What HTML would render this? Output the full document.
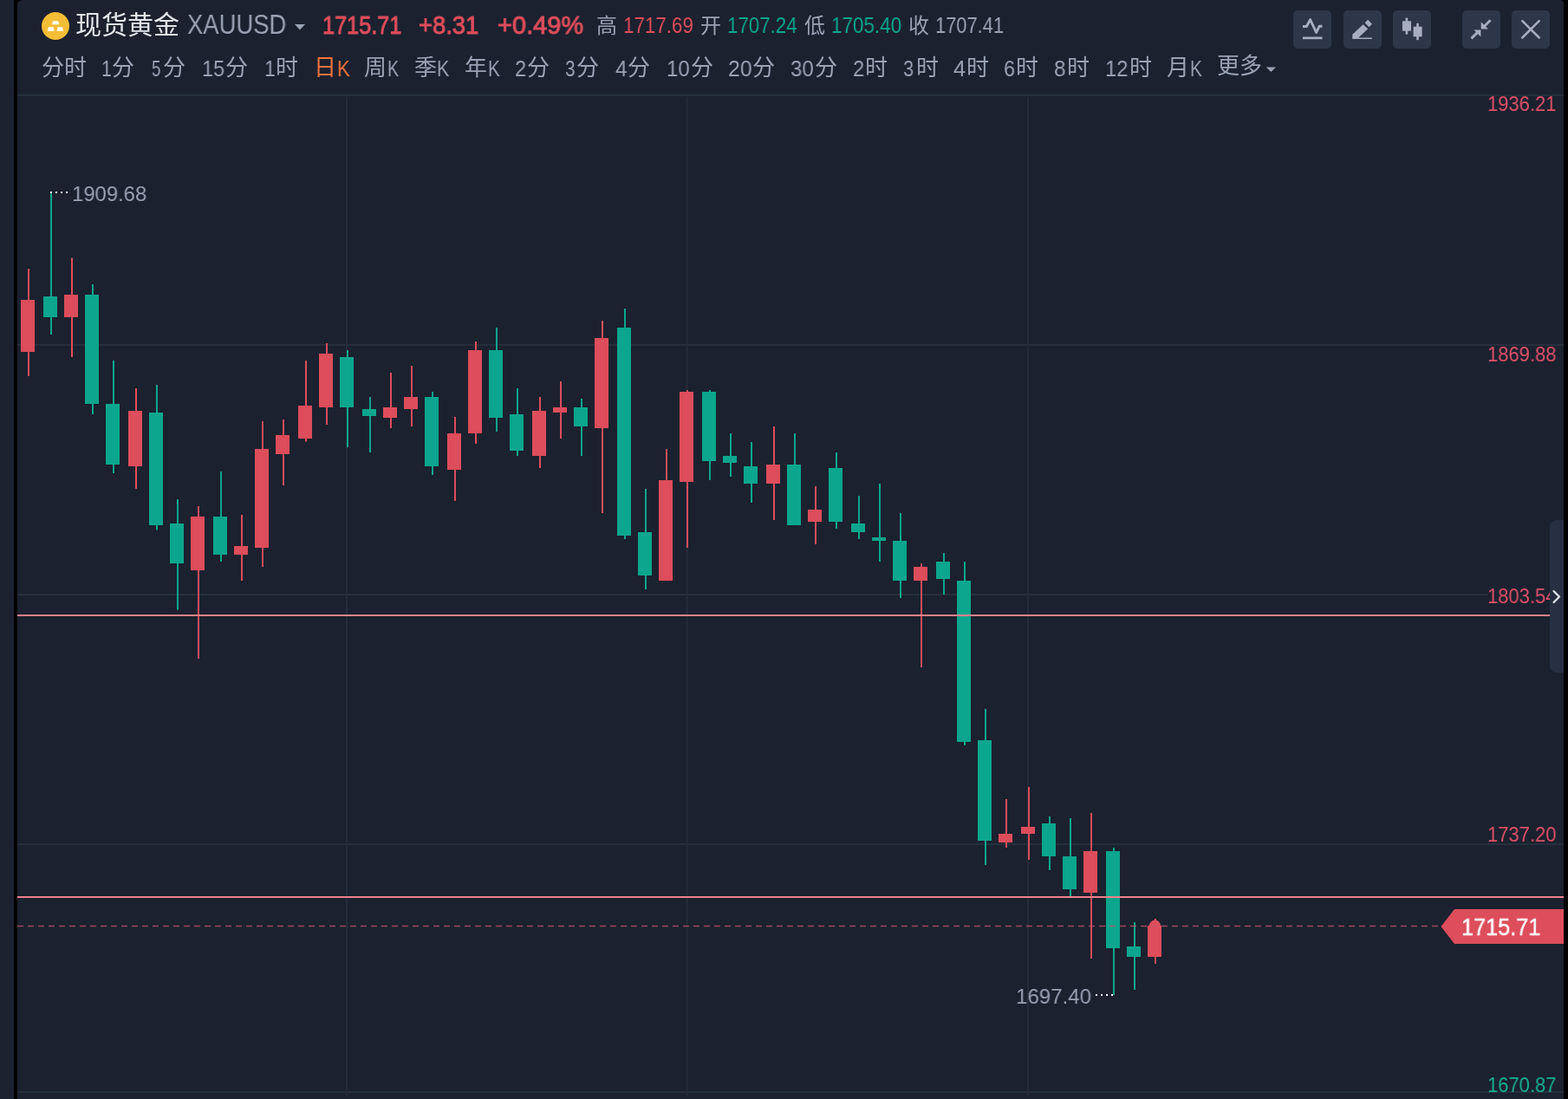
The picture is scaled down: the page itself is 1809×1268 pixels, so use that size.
<!DOCTYPE html>
<html lang="zh"><head><meta charset="utf-8"><title>现货黄金 XAUUSD</title>
<style>
html,body{margin:0;padding:0;background:#1b212f}
body{width:1809px;height:1268px;position:relative;overflow:hidden;font-family:"Liberation Sans",sans-serif}
.t{position:absolute;white-space:nowrap;line-height:1;transform-origin:0 0;will-change:transform}
.h{position:absolute;white-space:nowrap;line-height:1;color:transparent;font-size:12px}
.btn{position:absolute;top:12px;width:44px;height:44px;border-radius:5px;background:#2d3749}
svg{position:absolute;left:0;top:0}
svg text{font-family:"Liberation Sans","Noto Sans CJK SC",sans-serif}
</style></head><body>
<div style="position:absolute;left:16px;top:0;width:1793px;height:1268px;background:#000"></div>
<div id="panel" style="position:absolute;left:20px;top:0;width:1784px;height:1268px;background:#1b212f;border-radius:6px 4px 0 0"></div>
<svg width="1809" height="1268" viewBox="0 0 1809 1268">
<rect x="20" y="109" width="1784" height="2" fill="#262f3c"/>
<rect x="20" y="397" width="1784" height="2" fill="#262f3c"/>
<rect x="20" y="685" width="1784" height="2" fill="#262f3c"/>
<rect x="20" y="973" width="1784" height="2" fill="#262f3c"/>
<rect x="20" y="1259" width="1784" height="2" fill="#262f3c"/>
<rect x="399" y="112" width="2" height="1152" fill="#242c3a"/>
<rect x="791.5" y="112" width="2" height="1152" fill="#242c3a"/>
<rect x="1185" y="112" width="2" height="1152" fill="#242c3a"/>
<rect x="32" y="310" width="2" height="124" fill="#dd4d5b"/><rect x="24" y="346" width="16" height="60" fill="#dd4d5b"/>
<rect x="58" y="222" width="2" height="164" fill="#0ba68d"/><rect x="50" y="342" width="16" height="24" fill="#0ba68d"/>
<rect x="82" y="297.5" width="2" height="114.5" fill="#dd4d5b"/><rect x="74" y="340" width="16" height="26" fill="#dd4d5b"/>
<rect x="106" y="328" width="2" height="150" fill="#0ba68d"/><rect x="98" y="340" width="16" height="126" fill="#0ba68d"/>
<rect x="130" y="416" width="2" height="130" fill="#0ba68d"/><rect x="122" y="466" width="16" height="70" fill="#0ba68d"/>
<rect x="156" y="448" width="2" height="116" fill="#dd4d5b"/><rect x="148" y="474" width="16" height="64" fill="#dd4d5b"/>
<rect x="180" y="444" width="2" height="167.5" fill="#0ba68d"/><rect x="172" y="476" width="16" height="130" fill="#0ba68d"/>
<rect x="204" y="576" width="2" height="127.5" fill="#0ba68d"/><rect x="196" y="604" width="16" height="46" fill="#0ba68d"/>
<rect x="228" y="584" width="2" height="176" fill="#dd4d5b"/><rect x="220" y="596" width="16" height="62" fill="#dd4d5b"/>
<rect x="254" y="544" width="2" height="104" fill="#0ba68d"/><rect x="246" y="596" width="16" height="44" fill="#0ba68d"/>
<rect x="278" y="594" width="2" height="76" fill="#dd4d5b"/><rect x="270" y="630" width="16" height="10" fill="#dd4d5b"/>
<rect x="302" y="486" width="2" height="168" fill="#dd4d5b"/><rect x="294" y="518" width="16" height="114" fill="#dd4d5b"/>
<rect x="326" y="484" width="2" height="76" fill="#dd4d5b"/><rect x="318" y="502" width="16" height="22" fill="#dd4d5b"/>
<rect x="352" y="416" width="2" height="93.5" fill="#dd4d5b"/><rect x="344" y="468" width="16" height="38" fill="#dd4d5b"/>
<rect x="376" y="396" width="2" height="94" fill="#dd4d5b"/><rect x="368" y="408" width="16" height="62" fill="#dd4d5b"/>
<rect x="400" y="404" width="2" height="112" fill="#0ba68d"/><rect x="392" y="412" width="16" height="58" fill="#0ba68d"/>
<rect x="426" y="458" width="2" height="64" fill="#0ba68d"/><rect x="418" y="472" width="16" height="8" fill="#0ba68d"/>
<rect x="450" y="430" width="2" height="64" fill="#dd4d5b"/><rect x="442" y="470" width="16" height="12" fill="#dd4d5b"/>
<rect x="474" y="422" width="2" height="70" fill="#dd4d5b"/><rect x="466" y="458" width="16" height="14" fill="#dd4d5b"/>
<rect x="498" y="452" width="2" height="96" fill="#0ba68d"/><rect x="490" y="458" width="16" height="80" fill="#0ba68d"/>
<rect x="524" y="481" width="2" height="97" fill="#dd4d5b"/><rect x="516" y="500" width="16" height="42" fill="#dd4d5b"/>
<rect x="548" y="394" width="2" height="118" fill="#dd4d5b"/><rect x="540" y="404" width="16" height="96" fill="#dd4d5b"/>
<rect x="572" y="378" width="2" height="120" fill="#0ba68d"/><rect x="564" y="404" width="16" height="78" fill="#0ba68d"/>
<rect x="596" y="448" width="2" height="78" fill="#0ba68d"/><rect x="588" y="478" width="16" height="42" fill="#0ba68d"/>
<rect x="622" y="458" width="2" height="82" fill="#dd4d5b"/><rect x="614" y="474" width="16" height="52" fill="#dd4d5b"/>
<rect x="646" y="440" width="2" height="66" fill="#dd4d5b"/><rect x="638" y="470" width="16" height="6" fill="#dd4d5b"/>
<rect x="670" y="460" width="2" height="66" fill="#0ba68d"/><rect x="662" y="470" width="16" height="22" fill="#0ba68d"/>
<rect x="694" y="370" width="2" height="222" fill="#dd4d5b"/><rect x="686" y="390" width="16" height="104" fill="#dd4d5b"/>
<rect x="720" y="356" width="2" height="266" fill="#0ba68d"/><rect x="712" y="378" width="16" height="240" fill="#0ba68d"/>
<rect x="744" y="564" width="2" height="116" fill="#0ba68d"/><rect x="736" y="614" width="16" height="50" fill="#0ba68d"/>
<rect x="768" y="518" width="2" height="152" fill="#dd4d5b"/><rect x="760" y="554" width="16" height="116" fill="#dd4d5b"/>
<rect x="792" y="450" width="2" height="182" fill="#dd4d5b"/><rect x="784" y="452" width="16" height="104" fill="#dd4d5b"/>
<rect x="818" y="450" width="2" height="104" fill="#0ba68d"/><rect x="810" y="452" width="16" height="80" fill="#0ba68d"/>
<rect x="842" y="500" width="2" height="50" fill="#0ba68d"/><rect x="834" y="526" width="16" height="8" fill="#0ba68d"/>
<rect x="866" y="510" width="2" height="70" fill="#0ba68d"/><rect x="858" y="538" width="16" height="20" fill="#0ba68d"/>
<rect x="892" y="492" width="2" height="108" fill="#dd4d5b"/><rect x="884" y="536" width="16" height="22" fill="#dd4d5b"/>
<rect x="916" y="500" width="2" height="106" fill="#0ba68d"/><rect x="908" y="536" width="16" height="70" fill="#0ba68d"/>
<rect x="940" y="561" width="2" height="67" fill="#dd4d5b"/><rect x="932" y="588" width="16" height="14" fill="#dd4d5b"/>
<rect x="964" y="522" width="2" height="88" fill="#0ba68d"/><rect x="956" y="540" width="16" height="62" fill="#0ba68d"/>
<rect x="990" y="572" width="2" height="50" fill="#0ba68d"/><rect x="982" y="604" width="16" height="10" fill="#0ba68d"/>
<rect x="1014" y="558" width="2" height="90" fill="#0ba68d"/><rect x="1006" y="620" width="16" height="4" fill="#0ba68d"/>
<rect x="1038" y="592" width="2" height="98" fill="#0ba68d"/><rect x="1030" y="624" width="16" height="46" fill="#0ba68d"/>
<rect x="1062" y="650" width="2" height="120" fill="#dd4d5b"/><rect x="1054" y="654" width="16" height="16" fill="#dd4d5b"/>
<rect x="1088" y="638" width="2" height="48" fill="#0ba68d"/><rect x="1080" y="648" width="16" height="20" fill="#0ba68d"/>
<rect x="1112" y="648" width="2" height="212" fill="#0ba68d"/><rect x="1104" y="670" width="16" height="186" fill="#0ba68d"/>
<rect x="1136" y="818" width="2" height="180" fill="#0ba68d"/><rect x="1128" y="854" width="16" height="116" fill="#0ba68d"/>
<rect x="1160" y="922" width="2" height="56" fill="#dd4d5b"/><rect x="1152" y="962" width="16" height="10" fill="#dd4d5b"/>
<rect x="1186" y="908" width="2" height="84" fill="#dd4d5b"/><rect x="1178" y="954" width="16" height="8" fill="#dd4d5b"/>
<rect x="1210" y="942" width="2" height="62" fill="#0ba68d"/><rect x="1202" y="950" width="16" height="38" fill="#0ba68d"/>
<rect x="1234" y="944" width="2" height="90" fill="#0ba68d"/><rect x="1226" y="988" width="16" height="38" fill="#0ba68d"/>
<rect x="1258" y="938" width="2" height="168" fill="#dd4d5b"/><rect x="1250" y="982" width="16" height="48" fill="#dd4d5b"/>
<rect x="1284" y="978" width="2" height="170" fill="#0ba68d"/><rect x="1276" y="982" width="16" height="112" fill="#0ba68d"/>
<rect x="1308" y="1064" width="2" height="78" fill="#0ba68d"/><rect x="1300" y="1092" width="16" height="12" fill="#0ba68d"/>
<rect x="1332" y="1060" width="2" height="52" fill="#dd4d5b"/><rect x="1324" y="1068" width="16" height="36" fill="#dd4d5b"/>
<circle cx="1332.5" cy="1068" r="6.5" fill="#dd4d5b"/>
<rect x="20" y="709" width="1784" height="2" fill="#ee828a" />
<rect x="20" y="1034" width="1784" height="2" fill="#ee828a" />
<line x1="20" y1="1068.5" x2="1662" y2="1068.5" stroke="#c4566b" stroke-width="1.3" stroke-dasharray="7 5" opacity="0.75"/>
<path d="M1662.5 1069L1678 1049H1804V1089H1678Z" fill="#dd4d5b"/>
<rect x="58" y="221" width="2" height="2" fill="#fff"/>
<rect x="64" y="221" width="2" height="2" fill="#fff"/>
<rect x="70" y="221" width="2" height="2" fill="#fff"/>
<rect x="76" y="221" width="2" height="2" fill="#fff"/>
<rect x="1264" y="1147" width="2" height="2" fill="#fff"/>
<rect x="1270" y="1147" width="2" height="2" fill="#fff"/>
<rect x="1276" y="1147" width="2" height="2" fill="#fff"/>
<rect x="1282" y="1147" width="2" height="2" fill="#fff"/>
<path d="M1804 600H1796a8 8 0 0 0 -8 8V768a8 8 0 0 0 8 8H1804Z" fill="#263042"/>
<path d="M1792.5 682L1799 688.5L1792.5 695" fill="none" stroke="#e4e8ef" stroke-width="2.2" stroke-linecap="round" stroke-linejoin="round"/>
</svg>
<div class="t" style="left:1716.48px;top:109.00px;font-size:23px;color:#df5169;transform:scaleX(0.9565)">1936.21</div>
<div class="t" style="left:1716.48px;top:398.00px;font-size:23px;color:#df5169;transform:scaleX(0.9565)">1869.88</div>
<div style="position:absolute;left:1716px;top:678px;width:72px;height:22px;background:#1b212f"></div>
<div style="position:absolute;left:1700px;top:670px;width:88px;height:40px;overflow:hidden">
<div class="t" style="left:16.48px;top:7.00px;font-size:23px;color:#df5169;transform:scaleX(0.9565)">1803.54</div></div>
<div class="t" style="left:1716.48px;top:952.00px;font-size:23px;color:#df5169;transform:scaleX(0.9565)">1737.20</div>
<div class="t" style="left:1716.48px;top:1241.00px;font-size:23px;color:#17b092;transform:scaleX(0.9565)">1670.87</div>
<div class="t " style="left:82.98px;top:212.00px;font-size:24.5px;color:#9aa2b4;transform:scaleX(0.9728)">1909.68</div>
<div class="t " style="left:1172.27px;top:1138.00px;font-size:24.5px;color:#9aa2b4;transform:scaleX(0.9821)">1697.40</div>
<div class="t " style="left:1686.46px;top:1057.00px;font-size:27px;color:#fff;-webkit-text-stroke:0.4px #fff;transform:scaleX(0.9363)">1715.71</div>
<svg width="1809" height="110" viewBox="0 0 1809 110">
<circle cx="64" cy="30" r="16" fill="#f3bd35"/>
<path d="M61.3 24.6h5.7l1.1 3.4h-7.9z M55.9 31.5h5.6l0.8 4h-7.2z M66.6 31.5h5.3l0.8 4h-6.9z" fill="#fff" stroke="#fff" stroke-width="0.5" stroke-linejoin="round"/>
<text x="87" y="39" font-size="30" fill="#e3e6eb">现货黄金</text>
<path d="M340 28h12l-6 6.5z" fill="#9aa2b4"/>
<text x="688" y="38" font-size="24" fill="#9aa2b4">高</text>
<text x="808" y="38" font-size="24" fill="#9aa2b4">开</text>
<text x="928" y="38" font-size="24" fill="#9aa2b4">低</text>
<text x="1048" y="38" font-size="24" fill="#9aa2b4">收</text>
<text x="48" y="87" font-size="26" fill="#9aa2b4">分时</text>
<text x="129" y="87" font-size="26" fill="#9aa2b4">分</text>
<text x="188" y="87" font-size="26" fill="#9aa2b4">分</text>
<text x="260" y="87" font-size="26" fill="#9aa2b4">分</text>
<text x="318" y="87" font-size="26" fill="#9aa2b4">时</text>
<text x="362" y="87" font-size="26" fill="#f4723b">日</text>
<text x="420" y="87" font-size="26" fill="#9aa2b4">周</text>
<text x="478" y="87" font-size="26" fill="#9aa2b4">季</text>
<text x="536" y="87" font-size="26" fill="#9aa2b4">年</text>
<text x="608" y="87" font-size="26" fill="#9aa2b4">分</text>
<text x="665" y="87" font-size="26" fill="#9aa2b4">分</text>
<text x="724" y="87" font-size="26" fill="#9aa2b4">分</text>
<text x="797" y="87" font-size="26" fill="#9aa2b4">分</text>
<text x="868" y="87" font-size="26" fill="#9aa2b4">分</text>
<text x="940" y="87" font-size="26" fill="#9aa2b4">分</text>
<text x="998" y="87" font-size="26" fill="#9aa2b4">时</text>
<text x="1057" y="87" font-size="26" fill="#9aa2b4">时</text>
<text x="1115" y="87" font-size="26" fill="#9aa2b4">时</text>
<text x="1172" y="87" font-size="26" fill="#9aa2b4">时</text>
<text x="1231" y="87" font-size="26" fill="#9aa2b4">时</text>
<text x="1303" y="87" font-size="26" fill="#9aa2b4">时</text>
<text x="1346" y="87" font-size="26" fill="#9aa2b4">月</text>
<text x="1404" y="85" font-size="26" fill="#9aa2b4">更多</text>
<path d="M1460.7 77.4h11.4l-5.7 5.6z" fill="#9aa2b4"/>
</svg>
<div class="t " style="left:216.08px;top:13.00px;font-size:30.5px;color:#9aa2b4;transform:scaleX(0.8995)">XAUUSD</div>
<div class="t " style="left:371.70px;top:14.00px;font-size:29.5px;color:#dd4d5b;-webkit-text-stroke:1.0px #dd4d5b;transform:scaleX(0.8562)">1715.71</div>
<div class="t " style="left:483.43px;top:14.00px;font-size:29.5px;color:#dd4d5b;-webkit-text-stroke:1.0px #dd4d5b;transform:scaleX(0.9277)">+8.31</div>
<div class="t " style="left:573.98px;top:14.00px;font-size:29.5px;color:#dd4d5b;-webkit-text-stroke:1.0px #dd4d5b;transform:scaleX(0.9821)">+0.49%</div>
<div class="t " style="left:718.70px;top:17.00px;font-size:25px;color:#dd4d5b;transform:scaleX(0.8948)">1717.69</div>
<div class="t " style="left:838.90px;top:17.00px;font-size:25px;color:#0ba68d;transform:scaleX(0.8914)">1707.24</div>
<div class="t " style="left:958.59px;top:17.00px;font-size:25px;color:#0ba68d;transform:scaleX(0.8973)">1705.40</div>
<div class="t " style="left:1078.73px;top:17.00px;font-size:25px;color:#9aa2b4;transform:scaleX(0.8746)">1707.41</div>
<div class="t " style="left:117.29px;top:67.00px;font-size:25px;color:#9aa2b4;transform:scaleX(0.8442)">1</div>
<div class="t " style="left:175.35px;top:67.00px;font-size:25px;color:#9aa2b4;transform:scaleX(0.7509)">5</div>
<div class="t " style="left:232.91px;top:67.00px;font-size:25px;color:#9aa2b4;transform:scaleX(0.9375)">15</div>
<div class="t " style="left:304.65px;top:67.00px;font-size:25px;color:#9aa2b4;transform:scaleX(0.9185)">1</div>
<div class="t " style="left:593.81px;top:67.00px;font-size:25px;color:#9aa2b4;transform:scaleX(0.9483)">2</div>
<div class="t " style="left:652.41px;top:67.00px;font-size:25px;color:#9aa2b4;transform:scaleX(0.8268)">3</div>
<div class="t " style="left:709.64px;top:67.00px;font-size:25px;color:#9aa2b4;transform:scaleX(0.9764)">4</div>
<div class="t " style="left:769.08px;top:67.00px;font-size:25px;color:#9aa2b4;transform:scaleX(0.9548)">10</div>
<div class="t " style="left:839.96px;top:67.00px;font-size:25px;color:#9aa2b4;transform:scaleX(0.9893)">20</div>
<div class="t " style="left:912.49px;top:67.00px;font-size:25px;color:#9aa2b4;transform:scaleX(0.9583)">30</div>
<div class="t " style="left:984.11px;top:67.00px;font-size:25px;color:#9aa2b4;transform:scaleX(0.9483)">2</div>
<div class="t " style="left:1042.17px;top:67.00px;font-size:25px;color:#9aa2b4;transform:scaleX(0.8690)">3</div>
<div class="t " style="left:1099.62px;top:67.00px;font-size:25px;color:#9aa2b4;transform:scaleX(1.0161)">4</div>
<div class="t " style="left:1158.01px;top:67.00px;font-size:25px;color:#9aa2b4;transform:scaleX(0.9362)">6</div>
<div class="t " style="left:1215.84px;top:67.00px;font-size:25px;color:#9aa2b4;transform:scaleX(0.9718)">8</div>
<div class="t " style="left:1274.80px;top:67.00px;font-size:25px;color:#9aa2b4;transform:scaleX(0.9454)">12</div>
<div class="t " style="left:388.58px;top:66.00px;font-size:26px;color:#f4723b;transform:scaleX(0.8514)">K</div>
<div class="t " style="left:447.38px;top:66.00px;font-size:26px;color:#9aa2b4;transform:scaleX(0.7575)">K</div>
<div class="t " style="left:504.44px;top:66.00px;font-size:26px;color:#9aa2b4;transform:scaleX(0.8246)">K</div>
<div class="t " style="left:562.90px;top:66.00px;font-size:26px;color:#9aa2b4;transform:scaleX(0.7977)">K</div>
<div class="t " style="left:1372.70px;top:66.00px;font-size:26px;color:#9aa2b4;transform:scaleX(0.7977)">K</div>
<div class="btn" style="left:1492px"></div>
<div class="btn" style="left:1550px"></div>
<div class="btn" style="left:1607px"></div>
<div class="btn" style="left:1687px"></div>
<div class="btn" style="left:1744px"></div>
<svg width="1809" height="70" viewBox="0 0 1809 70">
<path d="M1503 30.5h4.4L1511.6 22.6L1518.6 37.5L1522 30.3h3.5" fill="none" stroke="#a6aec0" stroke-width="2.9" stroke-linejoin="round"/>
<rect x="1503" y="42.5" width="22.5" height="2.7" fill="#a6aec0"/>
<path d="M1560.3 39.8L1572.6 28.2L1578.2 33.2L1567.2 43.6H1582.8V45H1560.3Z" fill="#a6aec0"/>
<path d="M1574.6 26.2L1578.2 22.8L1582.9 27.8L1579.4 31.2Z" fill="#a6aec0"/>
<rect x="1618" y="24.3" width="10" height="11.4" fill="#a6aec0"/><rect x="1621.6" y="20.6" width="2.6" height="19" fill="#a6aec0"/>
<rect x="1630.6" y="30.7" width="10" height="11.6" fill="#a6aec0"/><rect x="1634.2" y="26.8" width="2.6" height="19.4" fill="#a6aec0"/>
<path d="M1719.6 23.2L1712 30.8" stroke="#a6aec0" stroke-width="3" fill="none"/><path d="M1708.7 25.3V33.4H1716.9Z" fill="#a6aec0"/>
<path d="M1697.5 44.4L1705.2 36.9" stroke="#a6aec0" stroke-width="3" fill="none"/><path d="M1708.4 34.6H1700.4L1708.4 42.5Z" fill="#a6aec0"/>
<path d="M1756.3 24.1L1775.7 43.5M1775.7 24.1L1756.3 43.5" stroke="#a6aec0" stroke-width="2.5" stroke-linecap="round" fill="none"/>
</svg>
</body></html>
